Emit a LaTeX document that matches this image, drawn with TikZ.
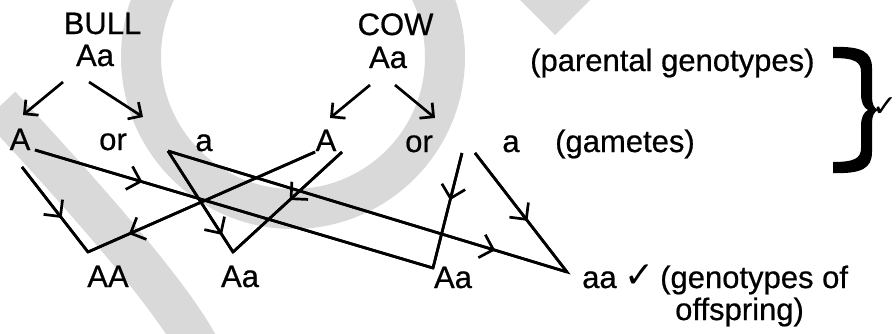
\documentclass[tikz,border=0pt]{standalone}
\usepackage{fontspec}
\newfontfamily\labelfont[FakeBold=0.6]{Liberation Sans}
\newfontfamily\symfont{DejaVu Sans}
\usetikzlibrary{arrows.meta,decorations.markings}
\definecolor{wmgray}{RGB}{217,217,217}

\begin{document}
\begin{tikzpicture}[x=1pt,y=-1pt,
  lbl/.style={font=\labelfont\fontsize{31}{36}\selectfont, inner sep=0pt, anchor=base},
  chk/.style={font=\symfont\fontsize{36}{42}\selectfont, inner sep=0pt, anchor=base west},
  wire/.style={line width=2.7pt},
  endtip/.style={-{Straight Barb[length=10pt,width=20pt]}},
  midtip/.style={postaction={decorate},
    decoration={markings, mark=at position #1 with {\arrow{Straight Barb[length=12pt,width=24pt]}}}},
  wm/.style={draw=wmgray}]
\useasboundingbox (0,0) rectangle (896,333);

% background shapes in light grey
\begin{scope}
  \clip (0,0) rectangle (896,333);
  \draw[wm, line width=40pt] (293,57) circle[radius=152pt];
  \draw[wm, line width=42pt] (0,106) .. controls (80,192) and (172,295) .. (200,350);
  \fill[wmgray] (520,0) -- (590,0) -- (555,35) -- cycle;
\end{scope}

% parents
\node[lbl] (bull) at (102.5,34) {BULL};
\node[lbl] (bullG) at (95,66) {Aa};
\node[lbl] (cow) at (395.5,35) {COW};
\node[lbl] (cowG) at (388,68) {Aa};
\node[lbl, anchor=base west] (parental) at (530,71) {(parental genotypes)};

% gametes
\node[lbl] (gA1) at (20,150) {A};
\node[lbl] (gor1) at (113,150) {or};
\node[lbl] (ga1) at (204,151) {a};
\node[lbl] (gA2) at (326,151) {A};
\node[lbl] (gor2) at (419,152) {or};
\node[lbl] (ga2) at (511,152) {a};
\node[lbl, anchor=base west] (gametes) at (555,152) {(gametes)};

% offspring
\node[lbl] (oAA) at (108,287) {AA};
\node[lbl] (oAa1) at (240,287) {Aa};
\node[lbl] (oAa2) at (453,288) {Aa};
\node[lbl, anchor=base west] (oaa) at (582,288) {aa};
\node[chk] (chk1) at (624,287) {✓};
\node[lbl, anchor=base west] (geno) at (660,288) {(genotypes of};
\node[lbl, anchor=base west] (offs) at (675,320) {offspring)};

% brace grouping the first two labels
\fill (833,47) .. controls (862,46) and (872,52) .. (872,68) -- (872,97)
  .. controls (872,104) and (874,108) .. (878,110)
  .. controls (874,112) and (872,116) .. (872,123) -- (872,152)
  .. controls (872,168) and (862,174) .. (833,173) -- (833,162)
  .. controls (855,162) and (861,158) .. (861,148) -- (861,126)
  .. controls (861,117) and (864,112) .. (868,110)
  .. controls (864,108) and (861,103) .. (861,94) -- (861,72)
  .. controls (861,62) and (855,58) .. (833,58) -- cycle;
\node[chk, font=\symfont\fontsize{30}{34}\selectfont] (chk2) at (872,116) {✓};

% line ends
\coordinate (bA-l) at (63,82);   \coordinate (gA1-t) at (23,115);
\coordinate (bA-r) at (89,82);   \coordinate (gor1-t) at (143,117);
\coordinate (cA-l) at (370,85);  \coordinate (gA2-t) at (330,118);
\coordinate (cA-r) at (395,85);  \coordinate (gor2-t) at (435,118);
\coordinate (pA1r) at (35,150);
\coordinate (pA1b) at (22,167);
\coordinate (pa1) at (168,151);
\coordinate (pA2l) at (315,152);
\coordinate (pA2r) at (342,152);
\coordinate (pa2l) at (462,153);
\coordinate (pa2r) at (475,153);
\coordinate (vAA) at (88,252);
\coordinate (vAa1) at (233,252);
\coordinate (vAa2) at (433,268);
\coordinate (vaa) at (567,272);

% parents to gametes
\draw[wire, endtip] (bA-l) -- (gA1-t);
\draw[wire, endtip] (bA-r) -- (gor1-t);
\draw[wire, endtip] (cA-l) -- (gA2-t);
\draw[wire, endtip] (cA-r) -- (gor2-t);

% fertilisation lines
\draw[wire] (pA1b) -- (vAA) -- (pA2l);
\draw[wire, midtip=0.6] (pA1b) -- (vAA);
\draw[wire, midtip=0.82] (pA2l) -- (vAA);

\draw[wire] (pa1) -- (vAa1) -- (pA2r);
\draw[wire, midtip=0.83] (pa1) -- (vAa1);
\draw[wire, midtip=0.48] (pA2r) -- (vAa1);

\draw[wire] (pA1r) -- (vAa2) -- (pa2l);
\draw[wire, midtip=0.27] (pA1r) -- (vAa2);
\draw[wire, midtip=0.41] (pa2l) -- (vAa2);

\draw[wire] (pa1) -- (vaa) -- (pa2r);
\draw[wire, midtip=0.82] (pa1) -- (vaa);
\draw[wire, midtip=0.57] (pa2r) -- (vaa);
\end{tikzpicture}
\end{document}
